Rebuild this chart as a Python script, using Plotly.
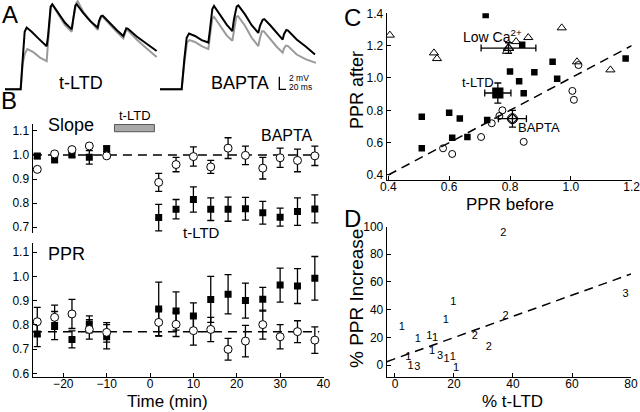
import plotly.graph_objects as go

# ---------------- DATA ----------------
# Panel A: EPSP traces (time in ms, voltage in mV)
a_ltd_t = [0, 47, 53, 59, 65, 80, 100, 125, 129, 137, 142, 160, 180, 200, 204, 211, 215, 235, 257, 278,
           282, 288, 293, 315, 335, 355, 359, 364, 369, 395, 425, 455]
a_ltd_black = [0, 0, 4.9, 9.6, 10.3, 9.6, 8.5, 7.2, 8.8, 13.8, 14.2, 12.7, 11.1, 10.0, 11.6, 14.0, 14.2, 12.7,
               11.3, 10.3, 11.4, 12.2, 12.3, 11.0, 9.9, 8.9, 9.6, 10.2, 10.1, 8.8, 7.6, 6.4]
a_ltd_t_gray = [0, 47, 53, 60, 67, 85, 105, 125, 129, 137, 142, 160, 180, 200, 205, 214, 218, 235, 257, 278,
                282, 288, 293, 315, 335, 355, 359, 364, 369, 395, 425, 455]
a_ltd_gray = [0, 0, 4.3, 6.0, 6.7, 6.2, 5.3, 4.7, 7.7, 13.5, 14.1, 12.4, 10.7, 9.6, 11.8, 14.4, 14.7, 12.9,
              11.3, 9.9, 11.0, 12.0, 12.1, 10.7, 9.6, 8.5, 9.3, 10.0, 9.8, 8.3, 6.8, 5.4]
a_bap_t = [0, 65, 73, 80, 87, 105, 125, 145, 150, 157, 162, 180, 200, 217, 222, 230, 235, 255, 275, 295,
           300, 308, 313, 332, 350, 368, 372, 379, 384, 410, 438, 465]
a_bap_black = [0, 0, 5.0, 8.6, 9.3, 8.9, 8.2, 7.8, 10.0, 13.4, 13.9, 12.5, 10.8, 9.7, 11.7, 13.8, 14.0, 12.5,
               10.7, 9.4, 10.6, 11.6, 11.7, 10.6, 9.4, 8.3, 9.2, 9.9, 9.8, 8.3, 7.1, 5.8]
a_bap_t_gray = [0, 65, 73, 81, 88, 105, 125, 145, 150, 157, 162, 180, 200, 217, 222, 229, 234, 255, 275, 295,
                300, 306, 311, 332, 350, 368, 372, 378, 384, 410, 438, 468]
a_bap_gray = [0, 0, 4.4, 7.8, 8.2, 7.9, 7.2, 6.7, 8.9, 11.8, 12.1, 10.6, 9.0, 8.1, 9.7, 12.1, 12.2, 10.6,
              8.6, 7.2, 8.6, 9.7, 9.7, 8.3, 7.1, 6.1, 6.8, 7.3, 7.2, 5.8, 5.0, 4.4]

# Panel B: time course
times = [-26, -22, -18, -14, -10, 2, 6, 10, 14, 18, 22, 26, 30, 34, 38]
slope_ltd = [0.995, 0.98, 1.0, 0.99, 1.025, 0.74, 0.775, 0.815, 0.775, 0.775, 0.777, 0.76, 0.742, 0.765, 0.776]
slope_ltd_err = [0.01, 0.012, 0.008, 0.028, 0.012, 0.055, 0.04, 0.052, 0.047, 0.05, 0.047, 0.047, 0.037, 0.057, 0.058]
slope_bap = [0.94, 1.004, 1.022, 1.037, 0.996, 0.886, 0.96, 0.993, 0.95, 1.028, 0.998, 0.945, 0.988, 0.977, 0.996]
slope_bap_err = [0, 0, 0, 0, 0.01, 0.037, 0.03, 0.04, 0.027, 0.043, 0.038, 0.045, 0.04, 0.047, 0.04]
ppr_ltd = [0.762, 0.797, 0.74, 0.802, 0.751, 0.865, 0.857, 0.836, 0.905, 0.926, 0.90, 0.906, 0.964, 0.96, 0.992]
ppr_ltd_err = [0.052, 0.058, 0.035, 0.035, 0.05, 0.111, 0.079, 0.055, 0.095, 0.081, 0.072, 0.049, 0.07, 0.072, 0.09]
ppr_bap = [0.813, 0.831, 0.845, 0.781, 0.769, 0.81, 0.802, 0.776, 0.781, 0.699, 0.733, 0.801, 0.751, 0.772, 0.737]
ppr_bap_err = [0.059, 0.05, 0.06, 0.04, 0.04, 0.055, 0.05, 0.06, 0.05, 0.045, 0.065, 0.06, 0.05, 0.045, 0.055]
slope_base = 1.0
ppr_base = 0.772
base_t = [-27, 39]
tltd_window = [-8.2, 1.0]

# Panel C: PPR before vs after
c_ltd_x = [0.72, 0.84, 0.94, 1.18, 0.80, 0.88, 0.83, 0.955, 0.845, 0.51, 0.60, 0.635, 0.725, 0.61, 0.66, 0.51]
c_ltd_y = [1.39, 1.205, 1.10, 1.12, 1.04, 1.035, 0.98, 0.995, 0.905, 0.76, 0.785, 0.75, 0.74, 0.63, 0.635, 0.565]
c_bap_x = [0.58, 0.61, 0.705, 0.74, 0.765, 0.775, 0.845, 1.005, 1.01, 1.025]
c_bap_y = [0.565, 0.53, 0.635, 0.72, 0.765, 0.80, 0.605, 0.92, 0.865, 1.08]
c_lca_x = [0.405, 0.55, 0.56, 0.82, 0.86, 0.97, 1.02, 1.13, 0.79]
c_lca_y = [1.265, 1.155, 1.12, 1.225, 1.25, 1.31, 1.10, 1.05, 1.165]
c_mean_ltd = (0.76, 0.907, 0.043, 0.062)
c_mean_bap = (0.808, 0.748, 0.046, 0.052)
c_mean_lca = (0.795, 1.185, 0.09, 0.033)
c_unity = [0.4, 1.2]

# Panel D: % t-LTD vs % PPR increase (labels = number of cells)
d_x = [36.7, 78.2, 19.8, 37.5, 17.2, 2.3, 11.6, 13.6, 7.7, 27.1, 31.8, 12.6, 15.3, 17.5, 19.6, 4.5, 5.3, 7.6, 20.7]
d_y = [95, 51.3, 45, 35.4, 32, 27.2, 21, 19.3, 18.8, 20.4, 12.8, 9.6, 6, 4.5, 5.5, 5.3, -1.2, -1.7, -2.7]
d_lab = ["2", "3", "1", "2", "1", "1", "1", "1", "1", "2", "2", "1", "3", "1", "1", "1", "1", "3", "1"]
d_fit_x = [-2.8, 80]
d_fit_y = [2.4, 65.7]

# ---------------- FIGURE ----------------
W, H = 640, 412
FONT = "Liberation Sans, Arial, sans-serif"
def PX(x): return x / W
def PY(y): return 1 - y / H

fig = go.Figure()
BLK = "black"
GRY = "#9a9a9a"

# Panel A
fig.add_trace(go.Scatter(x=a_ltd_t_gray, y=a_ltd_gray, mode="lines", line=dict(color=GRY, width=2), xaxis="x", yaxis="y"))
fig.add_trace(go.Scatter(x=a_ltd_t, y=a_ltd_black, mode="lines", line=dict(color=BLK, width=2), xaxis="x", yaxis="y"))
fig.add_trace(go.Scatter(x=a_bap_t_gray, y=a_bap_gray, mode="lines", line=dict(color=GRY, width=2), xaxis="x2", yaxis="y2"))
fig.add_trace(go.Scatter(x=a_bap_t, y=a_bap_black, mode="lines", line=dict(color=BLK, width=2), xaxis="x2", yaxis="y2"))

dash = "9px,6px"
# Panel B slope
fig.add_trace(go.Scatter(x=base_t, y=[slope_base] * 2, mode="lines", line=dict(color=BLK, width=1.5, dash=dash), xaxis="x3", yaxis="y3"))
fig.add_trace(go.Scatter(x=times, y=slope_ltd, mode="markers",
                         marker=dict(symbol="square", size=7, color=BLK),
                         error_y=dict(type="data", array=slope_ltd_err, color=BLK, thickness=1.3, width=3.5),
                         xaxis="x3", yaxis="y3"))
fig.add_trace(go.Scatter(x=times, y=slope_bap, mode="markers",
                         marker=dict(symbol="circle", size=8, color="white", line=dict(color=BLK, width=1)),
                         error_y=dict(type="data", array=slope_bap_err, color=BLK, thickness=1.3, width=3.5),
                         xaxis="x3", yaxis="y3"))
# Panel B PPR
fig.add_trace(go.Scatter(x=base_t, y=[ppr_base] * 2, mode="lines", line=dict(color=BLK, width=1.5, dash=dash), xaxis="x4", yaxis="y4"))
fig.add_trace(go.Scatter(x=times, y=ppr_ltd, mode="markers",
                         marker=dict(symbol="square", size=7, color=BLK),
                         error_y=dict(type="data", array=ppr_ltd_err, color=BLK, thickness=1.3, width=3.5),
                         xaxis="x4", yaxis="y4"))
fig.add_trace(go.Scatter(x=times, y=ppr_bap, mode="markers",
                         marker=dict(symbol="circle", size=8, color="white", line=dict(color=BLK, width=1)),
                         error_y=dict(type="data", array=ppr_bap_err, color=BLK, thickness=1.3, width=3.5),
                         xaxis="x4", yaxis="y4"))

# Panel C
fig.add_trace(go.Scatter(x=c_unity, y=c_unity, mode="lines", line=dict(color=BLK, width=1.5, dash=dash), xaxis="x5", yaxis="y5"))
fig.add_trace(go.Scatter(x=c_ltd_x, y=c_ltd_y, mode="markers", marker=dict(symbol="square", size=6.5, color=BLK),
                         xaxis="x5", yaxis="y5"))
fig.add_trace(go.Scatter(x=c_bap_x, y=c_bap_y, mode="markers",
                         marker=dict(symbol="circle-open", size=7, color=BLK, line=dict(width=1)),
                         xaxis="x5", yaxis="y5"))
fig.add_trace(go.Scatter(x=c_lca_x, y=c_lca_y, mode="markers",
                         marker=dict(symbol="triangle-up-open", size=8, color=BLK, line=dict(width=1)),
                         xaxis="x5", yaxis="y5"))
for (mx, my, ex, ey), sym, sz in [(c_mean_ltd, "square", 10), (c_mean_bap, "diamond-open", 8), (c_mean_lca, "triangle-up-open", 9)]:
    fig.add_trace(go.Scatter(x=[mx], y=[my], mode="markers",
                             marker=dict(symbol=sym, size=sz, color=BLK, line=dict(width=1.2, color=BLK)),
                             error_x=dict(type="data", array=[ex], color=BLK, thickness=1.3, width=3.5),
                             error_y=dict(type="data", array=[ey], color=BLK, thickness=1.3, width=3.5),
                             xaxis="x5", yaxis="y5"))
fig.add_trace(go.Scatter(x=[c_mean_bap[0]], y=[c_mean_bap[1]], mode="markers",
                         marker=dict(symbol="circle-open", size=10, color=BLK, line=dict(width=1)),
                         xaxis="x5", yaxis="y5"))

# Panel D
fig.add_trace(go.Scatter(x=d_fit_x, y=d_fit_y, mode="lines", line=dict(color=BLK, width=1.5, dash=dash), xaxis="x6", yaxis="y6"))
fig.add_trace(go.Scatter(x=d_x, y=d_y, mode="text", text=d_lab, textposition="middle center",
                         textfont=dict(size=11, color=BLK, family=FONT), xaxis="x6", yaxis="y6"))

# ---------------- LAYOUT ----------------
def hidden_ax(domain, rng, anchor):
    return dict(domain=domain, range=rng, visible=False, anchor=anchor, fixedrange=True, automargin=False)

def vis_ax(domain, rng, anchor, tickvals, ticktext=None, standoff=0):
    d = dict(domain=domain, range=rng, anchor=anchor, showline=True, linecolor=BLK, linewidth=1,
             ticks="inside", ticklen=4, tickwidth=1, tickcolor=BLK, showgrid=False, zeroline=False,
             automargin=False, fixedrange=True, tickvals=tickvals, ticklabeloverflow="allow",
             tickfont=dict(size=12, color=BLK, family=FONT), ticklabelstandoff=standoff)
    if ticktext is not None:
        d["ticktext"] = ticktext
    return d

a_y_dom = [PY(95), PY(0)]
b1_y_dom = [PY(233.3), PY(124)]
b2_y_dom = [PY(376.7), PY(242.7)]
b_x_dom = [PX(32.5), PX(323.5)]
c_x_dom = [PX(386.7), PX(631.7)]
c_y_dom = [PY(180), PY(13.3)]
d_x_dom = [PX(386.7), PX(631)]
d_y_dom = [PY(376.7), PY(226.5)]

fig.update_layout(
    template="none",
    width=W, height=H, autosize=False, showlegend=False,
    margin=dict(l=0, r=0, t=0, b=0, pad=0),
    paper_bgcolor="white", plot_bgcolor="rgba(0,0,0,0)",
    font=dict(family=FONT, color=BLK, size=12),
    xaxis=hidden_ax([PX(0), PX(160)], [-15, 465], "y"),
    yaxis=hidden_ax(a_y_dom, [-0.95, 14.9], "x"),
    xaxis2=hidden_ax([PX(160), PX(320)], [0, 480], "y2"),
    yaxis2=hidden_ax(a_y_dom, [-0.95, 14.9], "x2"),
    xaxis3=hidden_ax(b_x_dom, [-27.1, 40], "y3"),
    yaxis3=vis_ax(b1_y_dom, [0.675, 1.128], "x3", [0.7, 0.8, 0.9, 1.0, 1.1], ["0.7", "0.8", "0.9", "1.0", "1.1"]),
    xaxis4=vis_ax(b_x_dom, [-27.1, 40], "y4", [-20, -10, 0, 10, 20, 30, 40], standoff=-4),
    yaxis4=vis_ax(b2_y_dom, [0.586, 1.139], "x4", [0.6, 0.7, 0.8, 0.9, 1.0, 1.1], ["0.6", "0.7", "0.8", "0.9", "1.0", "1.1"]),
    xaxis5=vis_ax(c_x_dom, [0.3947, 1.2], "y5", [0.4, 0.6, 0.8, 1.0, 1.2], ["0.4", "0.6", "0.8", "1.0", "1.2"], standoff=-4),
    yaxis5=vis_ax(c_y_dom, [0.369, 1.4], "x5", [0.4, 0.6, 0.8, 1.0, 1.2, 1.4], ["0.4", "0.6", "0.8", "1.0", "1.2", "1.4"]),
    xaxis6=vis_ax(d_x_dom, [-2.81, 80], "y6", [0, 20, 40, 60, 80], standoff=-4),
    yaxis6=vis_ax(d_y_dom, [-8.45, 100], "x6", [0, 20, 40, 60, 80, 100]),
)

# Shapes: t-LTD induction bar and scale bar
fig.add_shape(type="rect", xref="x3", yref="y3", x0=tltd_window[0], x1=tltd_window[1], y0=1.096, y1=1.126,
              fillcolor="#a9a9a9", line=dict(color="#555555", width=1))
fig.add_shape(type="path", xref="x2", yref="y2", path="M 358 2.1 L 358 0 L 378 0",
              line=dict(color=BLK, width=1.3))

def ann(text, x, y, size, angle=0, xanchor="center"):
    fig.add_annotation(text=text, x=PX(x), y=PY(y), xref="paper", yref="paper", showarrow=False,
                       xanchor=xanchor, yanchor="middle", textangle=angle,
                       font=dict(size=size, color=BLK, family=FONT))

# panel letters
ann("A", 10, 15, 24)
ann("B", 9, 100, 24)
ann("C", 352, 18, 24)
ann("D", 352, 218, 24)
# panel A labels
ann("t-LTD", 81, 83.5, 18)
ann("BAPTA", 239.5, 83.5, 18)
ann("2 mV", 286.5, 78.5, 8.5, xanchor="left")
ann("20 ms", 286.5, 87.5, 8.5, xanchor="left")
# panel B labels
ann("Slope", 71, 125, 18)
ann("PPR", 66.5, 254, 18)
ann("BAPTA", 286.5, 135, 16)
ann("t-LTD", 201, 232, 15)
ann("t-LTD", 135, 115.5, 13)
ann("Time (min)", 167, 401, 17)
# panel C labels
ann("Low Ca<sup>2+</sup>", 492, 36, 14)
ann("t-LTD", 478, 82, 13)
ann("BAPTA", 539, 128, 13)
ann("PPR before", 510, 204, 17)
ann("PPR after", 357, 90, 18, angle=-90)
# panel D labels
ann("% PPR Increase", 356, 299, 19, angle=-90)
ann("% t-LTD", 512.7, 401, 17)

fig.write_html("out.html", config={"displayModeBar": False, "staticPlot": True},
               post_script="document.body.style.margin='0';document.body.style.padding='0';document.body.style.overflow='hidden';")
